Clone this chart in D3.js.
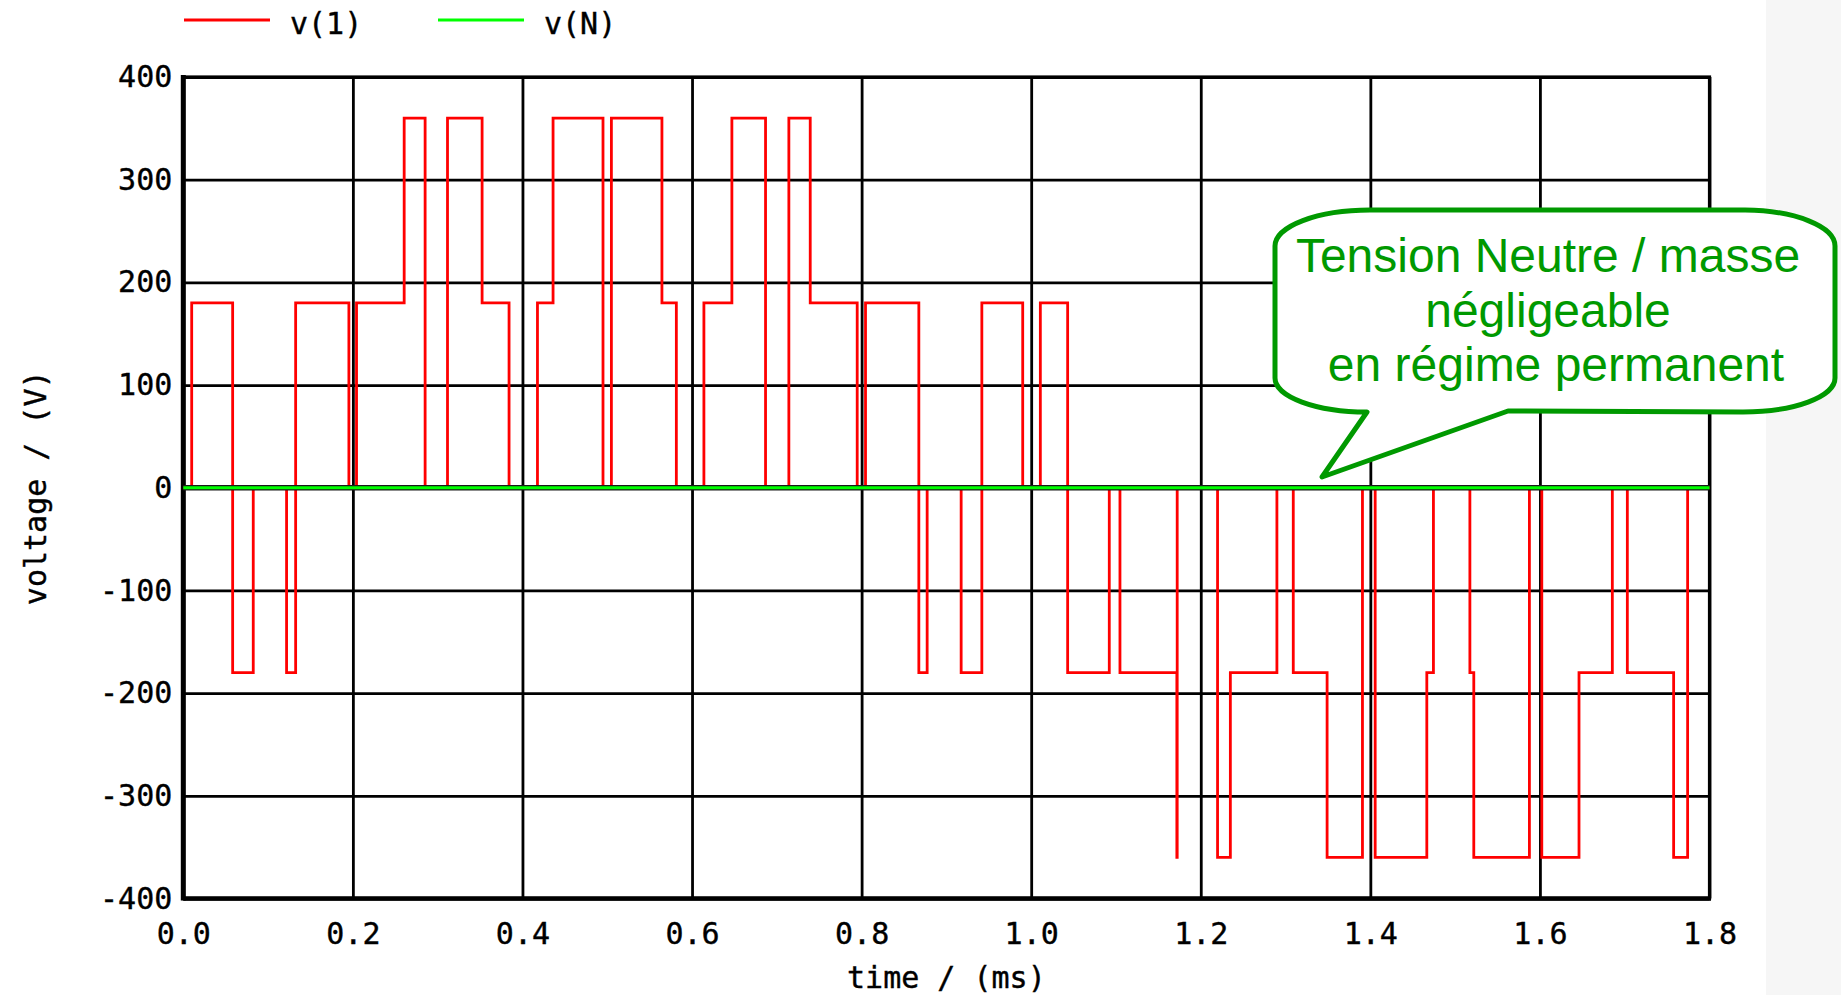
<!DOCTYPE html>
<html>
<head>
<meta charset="utf-8">
<script src="https://cdn.jsdelivr.net/npm/d3@7"></script>
<style>
  body { margin: 0; background: #fff; }
  svg { display: block; }
  .tick text { font-family: 'DejaVu Sans Mono', monospace; font-size: 30px; fill: #000; stroke: #000; stroke-width: 0.4px; }
</style>
</head>
<body>
<svg id="svg" width="1841" height="995"></svg>
<script>
// step waveform v(1): level holds from time[i] until time[i+1]
const v1Times = [0, 0.0099, 0.0582, 0.0825, 0.1218, 0.1325, 0.1953, 0.2043, 0.2605, 0.2852,
  0.3116, 0.3524, 0.3842, 0.4177, 0.4361, 0.4950, 0.5049, 0.5645, 0.5815, 0.6140,
  0.6470, 0.6867, 0.7142, 0.7394, 0.7948, 0.8046, 0.8675, 0.8773, 0.9174, 0.9418,
  0.9900, 1.0108, 1.0430, 1.0921, 1.1047, 1.1718, 1.1722, 1.2198, 1.2349, 1.2898,
  1.3091, 1.3490, 1.3907, 1.4057, 1.4666, 1.4744, 1.5174, 1.5220, 1.5876, 1.6022,
  1.6461, 1.6854, 1.7031, 1.7577, 1.7742, 1.8]
const v1Levels = [0, 180, -180, 0, -180, 180, 0, 180, 360, 0,
  360, 180, 0, 180, 360, 0, 360, 180, 0, 180,
  360, 0, 360, 180, 0, 180, -180, 0, -180, 180,
  0, 180, -180, 0, -180, -360, 0, -360, -180, 0,
  -180, -360, 0, -360, -180, 0, -180, -360, 0, -360,
  -180, 0, -180, -360, 0, 0]

const vNTimes = [0, 1.8]
const vNLevels = [0, 0]

const xTicks = [0, 0.2, 0.4, 0.6, 0.8, 1.0, 1.2, 1.4, 1.6, 1.8]
const yTicks = [-400, -300, -200, -100, 0, 100, 200, 300, 400]

const seriesNames = ['v(1)', 'v(N)']
const seriesColors = ['#ff0000', '#00ff00']

const noteLines = ['Tension Neutre / masse', 'négligeable', 'en régime permanent']

const svg = d3.select('#svg')

const plotLeft = 183.3, plotRight = 1709.5, plotTop = 77, plotBottom = 898.5

const x = d3.scaleLinear().domain([0, 1.8]).range([plotLeft, plotRight])
const y = d3.scaleLinear().domain([-400, 400]).range([plotBottom, plotTop])

// light grey strip on the right edge of the picture
svg.append('rect')
  .attr('x', 1766).attr('y', 0)
  .attr('width', 75).attr('height', 995)
  .attr('fill', '#f6f6f6')

// grid + tick labels
const xAxis = svg.append('g')
  .attr('transform', `translate(0, ${plotBottom})`)
  .call(d3.axisBottom(x)
    .tickValues(xTicks)
    .tickFormat(d3.format('.1f'))
    .tickSizeInner(-(plotBottom - plotTop))
    .tickSizeOuter(0)
    .tickPadding(24))
xAxis.select('.domain').remove()
xAxis.selectAll('.tick line').attr('stroke', '#000').attr('stroke-width', 2.8)

const yAxis = svg.append('g')
  .attr('transform', `translate(${plotLeft}, 0)`)
  .call(d3.axisLeft(y)
    .tickValues(yTicks)
    .tickFormat(d => String(d))
    .tickSizeInner(-(plotRight - plotLeft))
    .tickSizeOuter(0)
    .tickPadding(11))
yAxis.select('.domain').remove()
yAxis.selectAll('.tick line').attr('stroke', '#000').attr('stroke-width', 2.8)

// plot frame
svg.append('rect')
  .attr('x', plotLeft).attr('y', plotTop)
  .attr('width', plotRight - plotLeft).attr('height', plotBottom - plotTop)
  .attr('fill', 'none')
  .attr('stroke', '#000')
  .attr('stroke-width', 3.2)
svg.append('line')
  .attr('x1', plotLeft).attr('x2', plotLeft)
  .attr('y1', plotTop - 2).attr('y2', plotBottom + 2)
  .attr('stroke', '#000').attr('stroke-width', 5)
svg.append('line')
  .attr('x1', plotLeft).attr('x2', plotRight + 1.5)
  .attr('y1', plotBottom).attr('y2', plotBottom)
  .attr('stroke', '#000').attr('stroke-width', 4.5)

// curves
const stepLine = d3.line()
  .x(d => x(d[0]))
  .y(d => y(d[1]))
  .curve(d3.curveStepAfter)

svg.append('path')
  .datum(d3.zip(v1Times, v1Levels))
  .attr('d', stepLine)
  .attr('fill', 'none')
  .attr('stroke', seriesColors[0])
  .attr('stroke-width', 2.8)

const vN = d3.zip(vNTimes, vNLevels)
svg.append('path')
  .datum(vN)
  .attr('d', stepLine)
  .attr('fill', 'none')
  .attr('stroke', '#1a1a1a')
  .attr('stroke-width', 5.5)
svg.append('path')
  .datum(vN)
  .attr('d', stepLine)
  .attr('fill', 'none')
  .attr('stroke', seriesColors[1])
  .attr('stroke-width', 3.2)

// axis titles
svg.append('text')
  .attr('x', (plotLeft + plotRight) / 2)
  .attr('y', 977)
  .attr('dy', '0.35em')
  .attr('text-anchor', 'middle')
  .style('font-family', "'DejaVu Sans Mono', monospace")
  .style('font-size', '30px')
  .style('stroke', '#000').style('stroke-width', '0.4px')
  .text('time / (ms)')

svg.append('text')
  .attr('transform', `translate(35, ${y(0)}) rotate(-90)`)
  .attr('dy', '0.35em')
  .attr('text-anchor', 'middle')
  .style('font-family', "'DejaVu Sans Mono', monospace")
  .style('font-size', '30px')
  .style('stroke', '#000').style('stroke-width', '0.4px')
  .text('voltage / (V)')

// legend
const legend = svg.append('g')
  .selectAll('g')
  .data(seriesNames)
  .enter()
  .append('g')
  .attr('transform', (d, i) => `translate(${184 + i * 254}, 20)`)

legend.append('line')
  .attr('x1', 0).attr('x2', 86)
  .attr('y1', 0).attr('y2', 0)
  .attr('stroke', (d, i) => seriesColors[i])
  .attr('stroke-width', 3)

legend.append('text')
  .attr('x', 106)
  .attr('y', 3)
  .attr('dy', '0.35em')
  .style('font-family', "'DejaVu Sans Mono', monospace")
  .style('font-size', '30px')
  .style('stroke', '#000').style('stroke-width', '0.4px')
  .text(d => d)

// speech bubble note
const bubble = 'M1370,210 L1745,210 A92,36 0 0 1 1835,246 L1835,378 A92,34 0 0 1 1743,412 ' +
  'L1508,411 L1322,477 L1367,412 A92,34 0 0 1 1275,378 L1275,246 A95,36 0 0 1 1370,210 Z'
svg.append('path')
  .attr('d', bubble)
  .attr('fill', '#fff')
  .attr('stroke', '#009900')
  .attr('stroke-width', 5)
  .attr('stroke-linejoin', 'round')

const noteX = [1548, 1548, 1556]
const noteY = [272, 327, 381]
svg.append('g')
  .selectAll('text')
  .data(noteLines)
  .enter()
  .append('text')
  .attr('x', (d, i) => noteX[i])
  .attr('y', (d, i) => noteY[i])
  .attr('text-anchor', 'middle')
  .style('font-family', "'Liberation Sans', Arial, sans-serif")
  .style('font-size', '48px')
  .style('fill', '#009900')
  .text(d => d)
</script>
</body>
</html>
